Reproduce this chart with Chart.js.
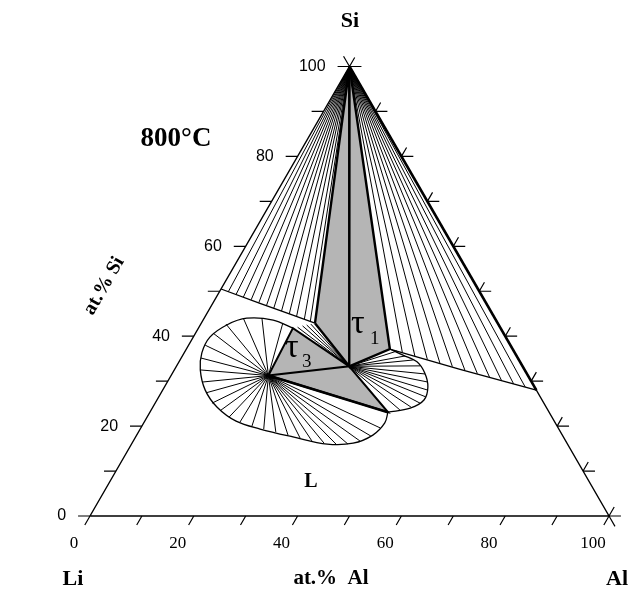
<!DOCTYPE html>
<html>
<head>
<meta charset="utf-8">
<script src="https://cdn.jsdelivr.net/npm/chart.js@4.4.1/dist/chart.umd.min.js"></script>
<style>
  body { margin: 0; background: #fff; }
  #wrap { width: 636px; height: 594px; }
</style>
</head>
<body>
<div id="wrap"><canvas id="ternary" width="636" height="594"></canvas></div>
<script>
// compositions are [at.% Al, at.% Si] (Li is the rest)
var cornerLi = [0, 0];
var cornerAl = [100, 0];
var cornerSi = [0, 100];

var tickValues = [0, 10, 20, 30, 40, 50, 60, 70, 80, 90, 100];
var tickLabels = [0, 20, 40, 60, 80, 100];

// phases
var tau1 = [33.3, 33.3];
var tau3 = [18.75, 31.25];

// liquid corners of the three-phase triangles
var liqL1 = [21.9, 42.9];
var liqL2 = [39.2, 37.15];
var liqL3 = [18.2, 41.8];
var liqL4 = [45.85, 23.1];
var liqLeftEdge = [0, 50.5];
var liqRightEdge = [72, 28];

var liquidusLeft = [liqLeftEdge, [9.1, 47.3], [16.1, 44.9], liqL1];
var liquidusRight = [liqL2, [55, 32.6], liqRightEdge];

var lobeTau3 = [liqL3, [13.5, 43.6], [8.2, 44.0], [5.1, 42.5], [3.2, 39.8], [3.4, 36.3],
  [5.0, 32.5], [8.2, 28.0], [12.4, 24.2], [17.6, 21.1], [23.1, 19.35], [30.3, 17.6],
  [37.7, 16.0], [42.6, 16.2], [45.5, 18.0], [46.45, 20.7], liqL4];
var lobeTau1 = [liqL2, [42.4, 35.8], [45.85, 34.3], [48.6, 31.8], [50.75, 28.7],
  [51.45, 25.8], [49.7, 24.0], liqL4];

// tie-line ends
var siTiesLeft = [[1.7, 49.9], [3.5, 49.3], [5.2, 48.7], [7.0, 48.1], [8.8, 47.45], [10.6, 46.8],
  [12.3, 46.2], [14.1, 45.6], [15.9, 45.0], [17.6, 44.4], [19.4, 43.8], [20.8, 43.3]];
var siTiesRight = [[42.0, 36.37], [44.8, 35.59], [47.6, 34.81], [50.4, 34.03], [53.2, 33.24],
  [56.0, 32.46], [58.8, 31.68], [61.5, 30.93], [64.2, 30.17], [66.9, 29.42], [69.5, 28.7]];
var tau1TiesSmall = [[19.0, 42.0], [19.8, 42.3], [20.5, 42.5], [21.2, 42.7]];
var tau3Ties = [[15.7, 42.9], [11.1, 44.05], [7.5, 44.05], [4.85, 42.7], [3.35, 40.7], [3.2, 38.0],
  [3.8, 35.15], [4.95, 32.5], [6.7, 29.8], [8.65, 27.4], [10.95, 25.1], [13.35, 23.4],
  [15.8, 22.0], [18.45, 20.9], [21.2, 20.0], [23.8, 19.35], [26.45, 18.7], [29.15, 18.0],
  [31.8, 17.35], [34.4, 16.7], [37.0, 16.2], [39.4, 16.0], [41.7, 16.0], [43.65, 16.7],
  [45.2, 17.8], [46.1, 19.6]];
var tau1Ties = [[40.8, 36.7], [42.9, 35.6], [44.85, 34.7], [46.9, 33.4], [48.75, 31.6],
  [50.2, 29.8], [51.1, 28.0], [51.45, 26.5], [51.05, 25.1], [49.7, 24.25], [47.9, 23.6]];

var H = Math.sqrt(3) / 2;
function T(p) { return { x: p[0] + p[1] / 2, y: p[1] * H }; }
var GAP = { x: null, y: null };

function path(list) { return list.map(T); }
function segments(pairs) {
    var out = [];
    pairs.forEach(function (s) { out.push(T(s[0]), T(s[1]), GAP); });
    return out;
}
function fan(center, ends) {
    return segments(ends.map(function (e) { return [center, e]; }));
}

// axis ticks
var tl = 2.3;
var tickSegs = [];
tickValues.forEach(function (v) {
    tickSegs.push([[0, v], [-tl, v]]);               // Si ticks on Li-Si edge
    tickSegs.push([[v, 0], [v, -2]]);                // Al ticks on Li-Al edge
    tickSegs.push([[100 - v, v], [100 - v + tl, v]]); // Si ticks on Al-Si edge
    tickSegs.push([[100 - v, v], [100 - v, v + 2]]);  // Al ticks on Al-Si edge
});
tickSegs.push([cornerSi, [-tl, 100 + tl]]);
tickSegs.push([cornerAl, [100 + tl, -tl]]);

function line(data, width, tension) {
    return { data: data, showLine: true, borderColor: '#000', borderWidth: width,
             pointRadius: 0, fill: false, spanGaps: false, tension: tension || 0 };
}
function area(list) {
    return { data: path(list), showLine: true, borderWidth: 0, borderColor: 'rgba(0,0,0,0)',
             backgroundColor: '#b5b5b5', pointRadius: 0, fill: 'shape' };
}

var datasets = [
    line(path([cornerLi, cornerAl, cornerSi, cornerLi]), 1.4),
    line(segments(tickSegs), 1.2),
    line(path([cornerSi, liqRightEdge]), 2.6),
    line(path([liqL1, cornerSi, tau1, liqL1]), 2.4),
    line(path([cornerSi, liqL2, tau1]), 2.4),
    line(path([tau3, liqL3, tau1, tau3, liqL4, tau1]), 2.0),
    line(path([tau3, liqL4]), 2.6),
    line(path(liquidusLeft), 1.3),
    line(path(liquidusRight), 1.3),
    line(path(lobeTau3), 1.3, 0.35),
    line(path(lobeTau1), 1.3, 0.35),
    line(fan(cornerSi, siTiesLeft), 1),
    line(fan(cornerSi, siTiesRight), 1),
    line(fan(tau1, tau1TiesSmall), 1),
    line(fan(tau3, tau3Ties), 1),
    line(fan(tau1, tau1Ties), 1),
    area([cornerSi, liqL1, tau1]),
    area([cornerSi, tau1, liqL2]),
    area([tau3, liqL3, tau1]),
    area([tau3, tau1, liqL4])
];

var textPlugin = {
    id: 'ternText',
    afterDraw: function (chart) {
        var ctx = chart.ctx, sx = chart.scales.x, sy = chart.scales.y;
        function px(al, si) {
            var p = T([al, si]);
            return [sx.getPixelForValue(p.x), sy.getPixelForValue(p.y)];
        }
        ctx.save();
        ctx.fillStyle = '#000';
        ctx.textBaseline = 'middle';
        // Si labels along the left edge
        ctx.font = '16px "Liberation Sans"';
        ctx.textAlign = 'right';
        tickLabels.forEach(function (v) {
            var p = px(-4.6, v);
            ctx.fillText(String(v), p[0], p[1]);
        });
        // Al labels under the base
        ctx.font = '17px "Liberation Serif"';
        ctx.textAlign = 'center';
        tickLabels.forEach(function (v) {
            var p = px(v, -6.2);
            ctx.fillText(String(v), p[0], p[1]);
        });

        ctx.font = 'bold 22px "Liberation Serif"';
        ctx.fillText('Si', 350, 21);
        ctx.fillText('Li', 73, 579);
        ctx.fillText('Al', 617, 579);
        ctx.font = 'bold 21px "Liberation Serif"';
        ctx.fillText('at.%  Al', 331, 579);
        ctx.font = 'bold 27px "Liberation Serif"';
        ctx.fillText('800°C', 176, 139);
        ctx.font = 'bold 20px "Liberation Serif"';
        ctx.fillText('L', 311, 482);

        ctx.save();
        ctx.translate(104, 286);
        ctx.rotate(-Math.PI / 3);
        ctx.font = 'bold 20px "Liberation Serif"';
        ctx.fillText('at.% Si', 0, 0);
        ctx.restore();

        ctx.textAlign = 'left';
        ctx.font = '34px "Liberation Serif"';
        ctx.fillText('τ', 351, 324);
        ctx.fillText('τ', 285, 348);
        ctx.font = '19px "Liberation Serif"';
        ctx.fillText('1', 370, 339);
        ctx.fillText('3', 302, 362);
        ctx.restore();
    }
};

var chart = new Chart(document.getElementById('ternary').getContext('2d'), {
    type: 'scatter',
    data: { datasets: datasets },
    options: {
        responsive: false,
        animation: false,
        layout: { padding: 0 },
        scales: {
            x: { type: 'linear', min: -17.34, max: 105.2, display: false },
            y: { type: 'linear', min: -15.03, max: 99.42, display: false }
        },
        plugins: {
            legend: { display: false },
            tooltip: { enabled: false },
            filler: { drawTime: 'beforeDatasetsDraw' }
        }
    },
    plugins: [textPlugin]
});
</script>
</body>
</html>
